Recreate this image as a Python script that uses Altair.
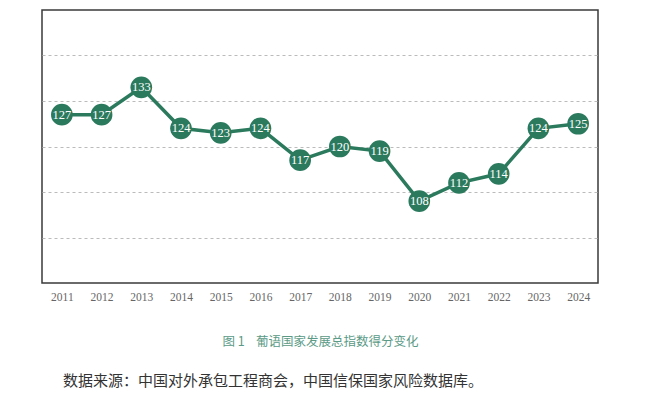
import altair as alt
import pandas as pd

years = ["2011", "2012", "2013", "2014", "2015", "2016", "2017", "2018", "2019", "2020", "2021", "2022", "2023", "2024"]
scores = [127, 127, 133, 124, 123, 124, 117, 120, 119, 108, 112, 114, 124, 125]
grid_values = [100, 110, 120, 130, 140]
caption = "图 1\u00a0\u00a0\u00a0\u00a0葡语国家发展总指数得分变化"
source = "数据来源：中国对外承包工程商会，中国信保国家风险数据库。"

df = pd.DataFrame({"year": years, "score": scores})
GREEN = "#2b7a5e"

x = alt.X("year:N", sort=years,
          scale=alt.Scale(type="point", padding=0.5),
          axis=alt.Axis(title=caption, labelAngle=0, ticks=False, domain=False,
                        labelFont="Liberation Serif", labelFontSize=11.5, labelColor="#666",
                        labelPadding=8, titleFont="Noto Sans CJK SC", titleFontSize=12.5,
                        titleFontWeight="normal", titleColor="#5a9a86", titlePadding=33))
y = alt.Y("score:Q", scale=alt.Scale(domain=[90, 150], nice=False, zero=False),
          axis=alt.Axis(title=None, labels=False, ticks=False, domain=False,
                        values=grid_values, grid=True, gridColor="#bbbbbb",
                        gridDash=[3, 3], gridWidth=1))

base = alt.Chart(df)
line = base.mark_line(color=GREEN, strokeWidth=3.5).encode(x=x, y=y)
dots = base.mark_circle(color=GREEN, opacity=1, size=470).encode(x=x, y=y)
labels = base.mark_text(color="white", font="Liberation Serif", fontSize=12.5).encode(
    x=x, y=y, text="score:Q")

chart = alt.layer(line, dots, labels).properties(
    width=556, height=273,
    autosize=alt.AutoSizeParams(type="none"),
    padding={"left": 34, "top": 2, "right": 44, "bottom": 108},
    title=alt.TitleParams(source, orient="bottom", anchor="start", dx=21, offset=26,
                          font="Noto Sans CJK SC", fontSize=15, fontWeight="normal",
                          color="#333333"),
).configure_view(stroke="#3a3a3a", strokeWidth=1.5)

chart.save("out.html", embed_options={"renderer": "svg", "actions": False})
